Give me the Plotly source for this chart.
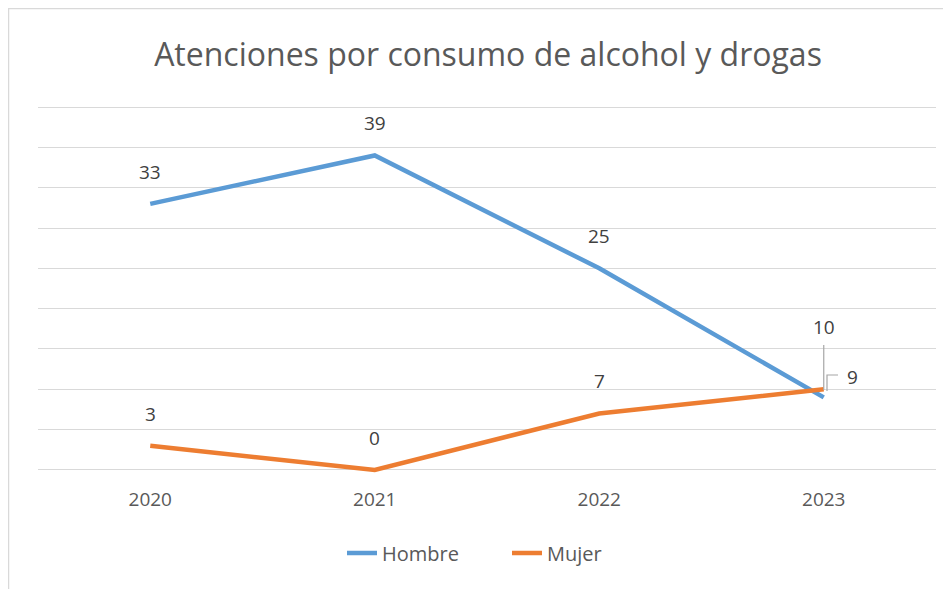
import plotly.graph_objects as go

years = ["2020", "2021", "2022", "2023"]
hombre = [33, 39, 25, 9]
mujer = [3, 0, 7, 10]
title_text = "Atenciones por consumo de alcohol y drogas"

BLUE = "#5B9BD5"
ORANGE = "#ED7D31"
FONT = "Open Sans"

# page body has an 8px margin, so the figure is placed at (8, 8)
W, H = 943, 581
L, R, T, B = 30, 15, 91, 111
PW, PH = W - L - R, H - T - B


def px_to_paper(px, py):
    fx, fy = px - 8, py - 8
    return (fx - L) / PW, (H - B - fy) / PH


fig = go.Figure()
fig.add_trace(go.Scatter(x=years, y=hombre, mode="lines", name="Hombre",
                         line=dict(color=BLUE, width=4.5), hoverinfo="skip"))
fig.add_trace(go.Scatter(x=years, y=mujer, mode="lines", name="Mujer",
                         line=dict(color=ORANGE, width=4.5), hoverinfo="skip"))

bx0, by1 = px_to_paper(8.5, 8.5)
bx1, by0 = px_to_paper(980, 620)
p1 = px_to_paper(827, 391)
p2 = px_to_paper(827, 375)
p3 = px_to_paper(838, 375)
v_top = px_to_paper(823, 345)

fig.update_layout(
    width=W, height=H,
    margin=dict(l=L, r=R, t=T, b=B),
    paper_bgcolor="white", plot_bgcolor="white",
    title=dict(text=title_text, x=(488 - 8) / W, xanchor="center",
               y=1 - (55 - 8) / H, yanchor="middle",
               font=dict(family=FONT, size=32, color="#595959")),
    xaxis=dict(type="category", range=[-0.5, 3.5], showgrid=False, zeroline=False,
               showline=False, ticks="outside", ticklen=4, tickcolor="rgba(0,0,0,0)",
               tickfont=dict(family=FONT, size=19, color="#595959"), fixedrange=True),
    yaxis=dict(range=[-1, 46], tick0=0, dtick=5, showticklabels=False, showgrid=True,
               gridcolor="#D9D9D9", gridwidth=1.3, zeroline=False, showline=False,
               fixedrange=True),
    showlegend=True,
    legend=dict(orientation="h", x=px_to_paper(342, 0)[0], xanchor="left",
                y=px_to_paper(0, 553)[1], yanchor="middle",
                entrywidth=120, entrywidthmode="pixels",
                font=dict(family=FONT, size=20, color="#595959"),
                bgcolor="rgba(0,0,0,0)"),
    shapes=[
        dict(type="rect", xref="paper", yref="paper",
             x0=bx0, x1=bx1, y0=by0, y1=by1,
             line=dict(color="#D9D9D9", width=1.5), layer="below"),
        dict(type="line", xref="x", yref="paper", x0=3, x1=3,
             y0=px_to_paper(0, 390)[1], y1=v_top[1],
             line=dict(color="#A6A6A6", width=1.2)),
        dict(type="path", xref="paper", yref="paper",
             path="M %f,%f L %f,%f L %f,%f" % (p1[0], p1[1], p2[0], p2[1], p3[0], p3[1]),
             line=dict(color="#A6A6A6", width=1.2)),
    ],
)

lab_font = dict(family=FONT, size=19, color="#404040")
for i, (yr, v) in enumerate(zip(years, hombre)):
    xs, ys = (29, 20) if i == 3 else (0, 32)
    fig.add_annotation(x=i, y=v, xref="x", yref="y", text=str(v), showarrow=False,
                       font=lab_font, xshift=xs, yshift=ys)
for i, (yr, v) in enumerate(zip(years, mujer)):
    ys = 62 if i == 3 else 32
    fig.add_annotation(x=i, y=v, xref="x", yref="y", text=str(v), showarrow=False,
                       font=lab_font, yshift=ys)

fig.write_html("out.html")
